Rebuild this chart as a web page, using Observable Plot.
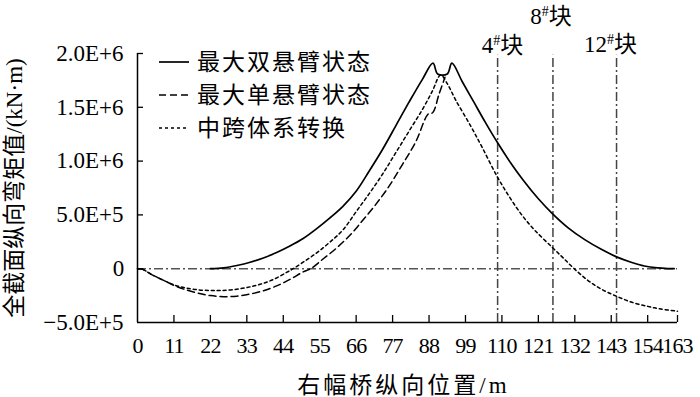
<!DOCTYPE html>
<html><head><meta charset="utf-8">
<script src="https://cdn.jsdelivr.net/npm/d3@7"></script>
<script src="https://cdn.jsdelivr.net/npm/@observablehq/plot@0.6"></script>
<style>
body{margin:0;background:#fff;}
#chart{width:700px;height:397px;}
</style></head><body><div id="chart"></div>
<script>
// ---- data ----
const xTicks = [0,11,22,33,44,55,66,77,88,99,110,121,132,143,154,163];
const yTicks = [-5e5,0,5e5,1e6,1.5e6,2e6];
const yTickLabels = ["−5.0E+5","0","5.0E+5","1.0E+6","1.5E+6","2.0E+6"];
const seriesNames = ["最大双悬臂状态","最大单悬臂状态","中跨体系转换"];
const xLabel = "右幅桥纵向位置/m";
const yLabel = "全截面纵向弯矩值/(kN·m)";

const doubleX = [22,26,30,34,38,42,46,50,54,58,62,66,70,74,78,82,86,89.2,90.6,93.5,94.9,98,101.5,105,108.7,112.5,116.5,121,125.3,130,135,140,144.6,149,153,157,160,162];
const doubleM = [0,0.008e6,0.03e6,0.06e6,0.10e6,0.15e6,0.21e6,0.28e6,0.37e6,0.47e6,0.58e6,0.72e6,0.91e6,1.11e6,1.33e6,1.55e6,1.76e6,1.91e6,1.81e6,1.81e6,1.91e6,1.74e6,1.55e6,1.36e6,1.17e6,0.99e6,0.82e6,0.65e6,0.51e6,0.38e6,0.27e6,0.18e6,0.11e6,0.06e6,0.025e6,0.007e6,0.001e6,0];

const singleX = [0,1.5,4,8,11,14,18,22,26,30,34,38,42,46,50,52.3,56,60,64.4,68,72,76,80,84,87.8,89.1,91,92.8];
const singleM = [0,-0.005e6,-0.05e6,-0.11e6,-0.155e6,-0.19e6,-0.225e6,-0.25e6,-0.26e6,-0.255e6,-0.235e6,-0.205e6,-0.16e6,-0.10e6,-0.03e6,0,0.09e6,0.19e6,0.32e6,0.45e6,0.60e6,0.77e6,0.97e6,1.18e6,1.44e6,1.45e6,1.62e6,1.78e6];

const closureX = [0,1.5,4,8,11,14,18,22,25,29,33,37,41,45,47,50,54,58,62,66,70,74,78,82,86,89,91.5,93.5,96,100.5,104,108.5,112,116,120,125.3,128.5,131.8,136,140,144.6,149,154,158,163];
const closureM = [0,-0.005e6,-0.05e6,-0.11e6,-0.15e6,-0.175e6,-0.195e6,-0.203e6,-0.203e6,-0.195e6,-0.175e6,-0.145e6,-0.10e6,-0.035e6,0,0.06e6,0.145e6,0.245e6,0.36e6,0.53e6,0.70e6,0.88e6,1.08e6,1.28e6,1.48e6,1.65e6,1.80e6,1.72e6,1.57e6,1.33e6,1.13e6,0.86e6,0.68e6,0.50e6,0.355e6,0.195e6,0.10e6,0,-0.11e6,-0.19e6,-0.256e6,-0.31e6,-0.35e6,-0.375e6,-0.395e6];

const blockNames = ["4","8","12"];
const blockX = [108.7,125.4,144.6];
const blockTop = 1.983e6;

// ---- build ----
const toRows = (xs, ms) => xs.map((x,i)=>({x, m: ms[i]}));
const dDouble = toRows(doubleX, doubleM);
const dSingle = toRows(singleX, singleM);
const dClosure = toRows(closureX, closureM);
const blocks = blockNames.map((n,i)=>({name:n, x:blockX[i]}));

const fontFam = '"Liberation Serif","Times New Roman","Noto Sans CJK SC",serif';
const W = 700, H = 397, ML = 137, MR = 23, MT = 53, MB = 75;
const frameW = W-ML-MR, frameH = H-MT-MB;
const dashDot = "9,3,2,3";

const blockLabel = (i, dx, dy) => Plot.text([blocks[i]], {
  x:"x", text: d => d.name + "#块", frameAnchor:"top", dx, dy,
  fontSize:23, fill:"#000", textAnchor:"middle"
});

const plot = Plot.plot({
  width: W, height: H,
  marginLeft: ML, marginRight: MR, marginTop: MT, marginBottom: MB,
  style: {fontFamily: fontFam, fontSize: "23px", color:"#000", background:"#fff", overflow:"visible"},
  x: {domain:[0,163]},
  y: {domain:[-5e5,2e6]},
  marks: [
    Plot.ruleY([0], {x1:0, x2:163, stroke:"#555", strokeWidth:1.5, strokeDasharray:dashDot}),
    Plot.ruleX(blocks, {x:"x", y1:-5e5, y2:blockTop, stroke:"#444", strokeWidth:1.5, strokeDasharray:dashDot}),
    Plot.line(dClosure, {x:"x", y:"m", stroke:"#000", strokeWidth:1.5, strokeDasharray:"3,3", curve:"catmull-rom"}),
    Plot.line(dSingle, {x:"x", y:"m", stroke:"#000", strokeWidth:1.5, strokeDasharray:"7,4", curve:"catmull-rom"}),
    Plot.line(dDouble, {x:"x", y:"m", stroke:"#000", strokeWidth:1.7, curve:"catmull-rom"}),
    Plot.ruleX([0], {stroke:"#000", strokeWidth:1.5}),
    Plot.ruleY([-5e5], {stroke:"#000", strokeWidth:1.5}),
    Plot.tickY(yTicks.slice(1), {y: d=>d, insetRight: frameW-6, stroke:"#000", strokeWidth:1.3}),
    Plot.tickX(xTicks.slice(1), {x: d=>d, insetTop: frameH-7, stroke:"#000", strokeWidth:1.3}),
    Plot.axisY({ticks: yTicks, tickFormat: d => yTickLabels[yTicks.indexOf(d)], tickSize:0, tickPadding:14, fontSize:23,
      label: yLabel, labelAnchor:"center", labelOffset:132, labelArrow:"none"}),
    Plot.axisX({ticks: xTicks, tickFormat: d => String(d), tickSize:0, tickPadding:15, fontSize:22,
      label: xLabel, labelAnchor:"center", labelOffset:70, labelArrow:"none"}),
    blockLabel(0, 5, -17),
    blockLabel(1, -2, -46),
    blockLabel(2, -6, -18)
  ]
});

const ns = "http://www.w3.org/2000/svg";
plot.querySelectorAll("text").forEach(t => {
  const s = t.textContent;
  if (s.includes("#块")) {
    // superscript '#'
    const [num, rest] = s.split("#");
    t.textContent = "";
    const a = document.createElementNS(ns,"tspan"); a.textContent = num;
    const b = document.createElementNS(ns,"tspan"); b.textContent = "#"; b.setAttribute("font-size","14"); b.setAttribute("dy","-8");
    const c = document.createElementNS(ns,"tspan"); c.textContent = rest; c.setAttribute("dy","8");
    t.append(a,b,c);
  } else if (s === xLabel) {
    t.setAttribute("letter-spacing","3");
    t.setAttribute("dx","-4");
    t.setAttribute("font-size","23");
  } else if (/^\d+$/.test(s)) {
    t.setAttribute("letter-spacing","-0.8");
  }
});

// legend
const svg = d3.select(plot);
const legendStyles = [{dash:null, w:1.7},{dash:"7,4", w:1.5},{dash:"3,3", w:1.5}];
const lg = svg.append("g").attr("font-family", fontFam).attr("font-size", 23).attr("text-anchor","start");
seriesNames.forEach((name, i) => {
  const y = 62 + i*33;
  lg.append("line").attr("x1",159).attr("x2",189).attr("y1",y).attr("y2",y)
    .attr("stroke","#000").attr("stroke-width",legendStyles[i].w)
    .attr("stroke-dasharray", legendStyles[i].dash);
  lg.append("text").attr("x",197).attr("y",y).attr("dy","0.35em")
    .attr("letter-spacing","2").attr("fill","#000").text(name);
});

document.getElementById("chart").append(plot);
</script></body></html>
